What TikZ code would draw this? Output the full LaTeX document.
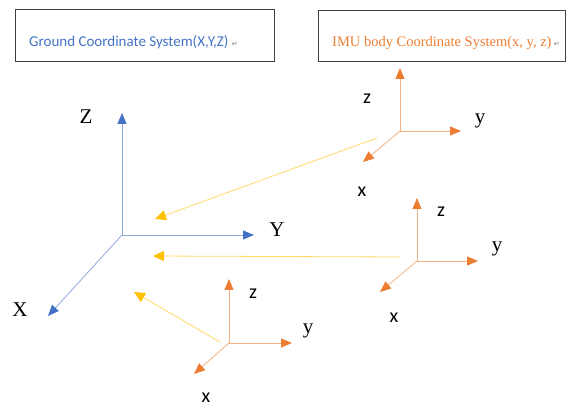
\documentclass[tikz,border=0pt]{standalone}
\usepackage{fontspec}
\usepackage{xcolor}
\usetikzlibrary{arrows.meta}
\setmainfont{Liberation Serif}
\newfontfamily\calib{Carlito}
\newfontfamily\symb{DejaVu Sans}
\definecolor{gblue}{HTML}{4472C4}
\definecolor{gline}{HTML}{8EA9DB}
\definecolor{borange}{HTML}{ED7D31}
\definecolor{bline}{HTML}{F4B183}
\definecolor{lyellow}{HTML}{FFC000}
\definecolor{lline}{HTML}{FFD966}
\newcommand{\parmark}{{\symb\fontsize{7}{7}\selectfont\textcolor{black!55}{↵}}}

\begin{document}
\begin{tikzpicture}[x=1pt,y=-1pt,
  box/.style={draw=black!75, line width=0.8pt, inner sep=0pt},
  gaxis/.style={draw=gline, line width=0.8pt, -{Triangle[length=11pt,width=9pt,color=gblue]}},
  baxis/.style={draw=bline, line width=0.8pt, -{Triangle[length=11pt,width=9pt,color=borange]}},
  link/.style={draw=lline, line width=0.8pt, -{Triangle[length=11pt,width=10pt,color=lyellow]}},
  serifl/.style={font=\fontsize{21}{21}\selectfont, inner sep=0pt},
  sansl/.style={font=\calib\fontsize{20}{20}\selectfont, inner sep=0pt}]
\useasboundingbox (0,0) rectangle (566,409);

\node[box, minimum width=259pt, minimum height=52pt] (gbox) at (144.5,35) {};
\node[anchor=west, inner sep=0pt, text=gblue, font=\calib\fontsize{15}{15}\selectfont] (gtitle) at (29,42) {Ground Coordinate System(X,Y,Z) \parmark};
\node[box, minimum width=247pt, minimum height=51pt] (bbox) at (441.5,35.5) {};
\node[anchor=west, inner sep=0pt, text=borange, font=\fontsize{14.5}{14.5}\selectfont] (btitle) at (332,43) {IMU body Coordinate System(x, y, z)\,\parmark};

\coordinate (g0) at (122,235);
\coordinate (gz) at (122,113);
\coordinate (gy) at (254,235);
\coordinate (gx) at (48,316);
\draw[gaxis] (g0) -- (gz);
\draw[gaxis] (g0) -- (gy);
\draw[gaxis] (g0) -- (gx);
\node[serifl] (gzl) at (86,117) {Z};
\node[serifl] (gyl) at (277,230) {Y};
\node[serifl] (gxl) at (20,310) {X};

\coordinate (a0) at (400,131);
\coordinate (az) at (400,68);
\coordinate (ay) at (461,131);
\coordinate (ax) at (363,162);
\draw[baxis] (a0) -- (az);
\draw[baxis] (a0) -- (ay);
\draw[baxis] (a0) -- (ax);
\node[sansl] (azl) at (367,99) {z};
\node[serifl] (ayl) at (480,121) {y};
\node[sansl] (axl) at (362,192) {x};

\coordinate (b0) at (417,261);
\coordinate (bz) at (417,198);
\coordinate (by) at (478,261);
\coordinate (bx) at (380,292);
\draw[baxis] (b0) -- (bz);
\draw[baxis] (b0) -- (by);
\draw[baxis] (b0) -- (bx);
\node[sansl] (bzl) at (441,212) {z};
\node[serifl] (byl) at (497,249) {y};
\node[sansl] (bxl) at (394,318) {x};

\coordinate (c0) at (229,343);
\coordinate (cz) at (229,279);
\coordinate (cy) at (292,343);
\coordinate (cx) at (194,374);
\draw[baxis] (c0) -- (cz);
\draw[baxis] (c0) -- (cy);
\draw[baxis] (c0) -- (cx);
\node[sansl] (czl) at (253,294) {z};
\node[serifl] (cyl) at (308,331) {y};
\node[sansl] (cxl) at (206,398) {x};

\coordinate (s1) at (377,138);
\coordinate (t1) at (155,219);
\coordinate (s2) at (400,257);
\coordinate (t2) at (153,256);
\coordinate (s3) at (220,342);
\coordinate (t3) at (134,292);
\draw[link] (s1) -- (t1);
\draw[link] (s2) -- (t2);
\draw[link] (s3) -- (t3);
\end{tikzpicture}
\end{document}
